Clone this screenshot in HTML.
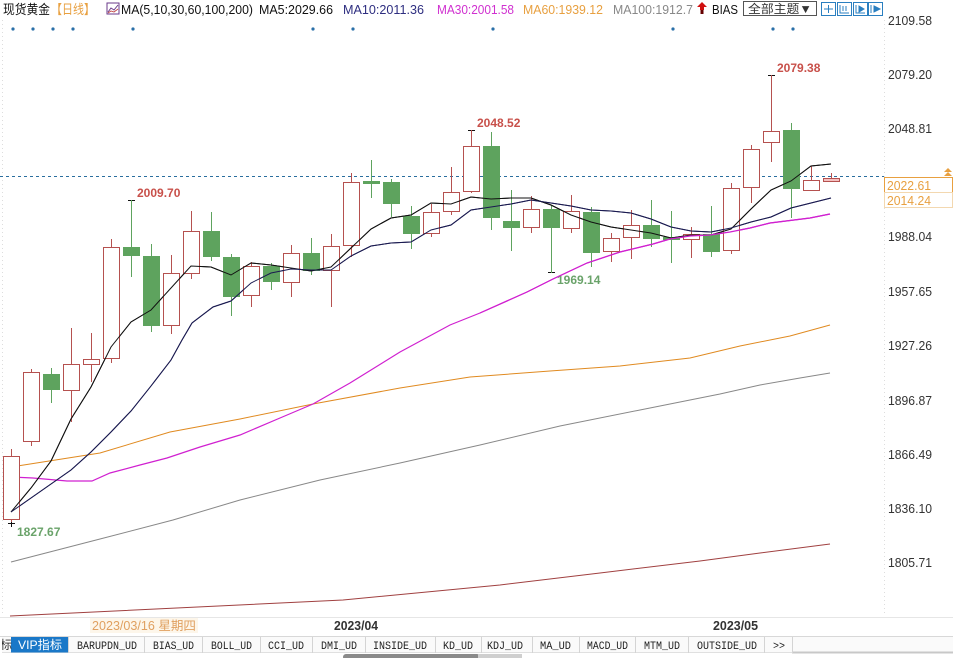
<!DOCTYPE html>
<html><head><meta charset="utf-8">
<style>
html,body{margin:0;padding:0;background:#fff;}
svg{display:block;}
text{font-family:"Liberation Sans","Noto Sans CJK SC",sans-serif;}
.mono{font-family:"Liberation Mono","Noto Sans CJK SC",monospace;}
</style></head>
<body>
<svg width="953" height="658" viewBox="0 0 953 658" xmlns="http://www.w3.org/2000/svg">
<rect width="953" height="658" fill="#fff"/>

<!-- header -->
<text x="3" y="14" font-size="13" fill="#111" textLength="47" lengthAdjust="spacingAndGlyphs">现货黄金</text>
<text x="51" y="14" font-size="13" fill="#e8a040" textLength="44" lengthAdjust="spacingAndGlyphs">【日线】</text>
<rect x="107" y="3" width="12" height="11" fill="#fff" stroke="#6a3a8a" stroke-width="1"/>
<polyline points="108,12 111,8 114,10 118,5" fill="none" stroke="#6a3a8a" stroke-width="1"/>
<polyline points="108,13 111,11 114,12 118,9" fill="none" stroke="#c04040" stroke-width="0.8"/>
<text x="121" y="14" font-size="13" fill="#111" textLength="132" lengthAdjust="spacingAndGlyphs">MA(5,10,30,60,100,200)</text>
<text x="259" y="14" font-size="13" fill="#111" textLength="74" lengthAdjust="spacingAndGlyphs">MA5:2029.66</text>
<text x="343" y="14" font-size="13" fill="#2e2e80" textLength="81" lengthAdjust="spacingAndGlyphs">MA10:2011.36</text>
<text x="437" y="14" font-size="13" fill="#d030d0" textLength="77" lengthAdjust="spacingAndGlyphs">MA30:2001.58</text>
<text x="523" y="14" font-size="13" fill="#e8a040" textLength="80" lengthAdjust="spacingAndGlyphs">MA60:1939.12</text>
<text x="613" y="14" font-size="13" fill="#888" textLength="80" lengthAdjust="spacingAndGlyphs">MA100:1912.7</text>
<polygon points="702,2 707,7 704,7 704,10 700,10 700,7 697,7" fill="#d01010"/>
<rect x="700.5" y="10" width="3" height="4" fill="#600"/>
<text x="712" y="14" font-size="13" fill="#111" textLength="26" lengthAdjust="spacingAndGlyphs">BIAS</text>
<rect x="743.5" y="1.5" width="73" height="14" fill="#fff" stroke="#555" stroke-width="1"/>
<text x="748" y="13" font-size="12" fill="#333" textLength="64" lengthAdjust="spacingAndGlyphs">全部主题▼</text>
<g fill="#fff" stroke="#2a7fc0" stroke-width="1">
<rect x="821.5" y="2.5" width="14" height="13"/>
<rect x="837.5" y="2.5" width="14" height="13"/>
<rect x="853.5" y="2.5" width="14" height="13"/>
<rect x="868.5" y="2.5" width="14" height="13"/>
</g>
<g stroke="#2a7fc0" stroke-width="1" fill="none">
<line x1="828.5" y1="5" x2="828.5" y2="13"/><line x1="824" y1="9" x2="833" y2="9"/>
<polyline points="840,5 840,13 849,13"/><line x1="843" y1="6" x2="843" y2="11"/><line x1="846" y1="6" x2="846" y2="11"/>
<polyline points="856,5 856,13 865,13"/><polygon points="859,6 864,9 859,12" fill="#2a7fc0"/>
<polyline points="871,5 871,13"/><polygon points="874,6 880,9 874,12" fill="#2a7fc0"/>
</g>

<!-- event dots -->
<g fill="#2a6fa8">
<circle cx="13" cy="29" r="1.6"/><circle cx="33" cy="29" r="1.6"/><circle cx="53" cy="29" r="1.6"/><circle cx="73" cy="29" r="1.6"/>
<circle cx="133" cy="29" r="1.6"/><circle cx="313" cy="29" r="1.6"/><circle cx="353" cy="29" r="1.6"/><circle cx="493" cy="29" r="1.6"/>
<circle cx="673" cy="29" r="1.6"/><circle cx="773" cy="29" r="1.6"/><circle cx="793" cy="29" r="1.6"/>
</g>

<!-- axis lines -->
<line x1="2.5" y1="20" x2="2.5" y2="616" stroke="#ddd" stroke-dasharray="1,3"/>
<line x1="884.5" y1="20" x2="884.5" y2="616" stroke="#ddd" stroke-dasharray="1,3"/>

<!-- right axis labels -->
<g font-size="12.5" fill="#333">
<text x="888" y="25" textLength="44" lengthAdjust="spacingAndGlyphs">2109.58</text>
<text x="888" y="79" textLength="44" lengthAdjust="spacingAndGlyphs">2079.20</text>
<text x="888" y="133" textLength="44" lengthAdjust="spacingAndGlyphs">2048.81</text>
<text x="888" y="241" textLength="44" lengthAdjust="spacingAndGlyphs">1988.04</text>
<text x="888" y="296" textLength="44" lengthAdjust="spacingAndGlyphs">1957.65</text>
<text x="888" y="350" textLength="44" lengthAdjust="spacingAndGlyphs">1927.26</text>
<text x="888" y="405" textLength="44" lengthAdjust="spacingAndGlyphs">1896.87</text>
<text x="888" y="459" textLength="44" lengthAdjust="spacingAndGlyphs">1866.49</text>
<text x="888" y="513" textLength="44" lengthAdjust="spacingAndGlyphs">1836.10</text>
<text x="888" y="567" textLength="44" lengthAdjust="spacingAndGlyphs">1805.71</text>
</g>

<!-- current price line -->
<line x1="0" y1="176.5" x2="884" y2="176.5" stroke="#2a6e9e" stroke-dasharray="3,3" stroke-width="1"/>
<rect x="884.5" y="177.5" width="68" height="15" fill="#fff" stroke="#e8a040"/>
<rect x="884.5" y="192.5" width="68" height="15" fill="#fff" stroke="#f3d8b0"/>
<text x="887" y="190" font-size="12.5" fill="#e8a040" textLength="44" lengthAdjust="spacingAndGlyphs">2022.61</text>
<text x="887" y="205" font-size="12.5" fill="#e8a040" textLength="44" lengthAdjust="spacingAndGlyphs">2014.24</text>
<polygon points="948,168 952,172 944,172" fill="#e8a040"/>
<polygon points="948,172 952,176 944,176" fill="#e8a040"/>

<!-- moving averages -->
<g fill="none" stroke-width="1">
<polyline stroke="#a04040" points="10,616 343,600 500,585 600,573 700,561 760,553 830,544"/>
<polyline stroke="#888" points="11,562 100,539 173,520 240,500 320,480 400,463 480,445 560,426 640,410 720,394 760,385 800,378 830,373"/>
<polyline stroke="#e08a20" points="11,467 100,453 170,432 240,419 313,404 400,388 470,377 550,371 620,366 690,358 740,346 790,336 830,325"/>
<polyline stroke="#d020d0" stroke-width="1.2" points="11,477 33,478 67,481 92,481 110,473 140,465 167,458 200,447 240,435 280,418 313,404 350,383 400,352 450,325 480,313 527,292 553,279 587,263 620,252 653,244 670,239 690,236 710,235 730,232 750,228 770,223 810,218 830,214"/>
</g>

<!-- candles -->
<g id="candles" stroke-width="1"></g>

<g fill="none" stroke-width="1">
<polyline stroke="#111" points="11,512 31,488 51,461 71,419 91,387 111,347 131,322 151,310 171,288 191,266 211,267 231,275 251,263 271,265 291,268 311,271 331,267 351,248 371,229 391,218 411,215 431,203 451,204 471,197 491,199 511,198 531,198 551,205 571,215 591,222 611,227 631,230 651,233 671,238 691,235 711,235 731,229 751,209 771,190 791,181 811,166 831,164"/>
<polyline stroke="#1a1a50" points="11,512 31,498 51,484 71,470 91,452 111,432 131,411 151,386 171,360 182,340 192,323 213,307 231,301 251,283 271,273 291,269 311,270 331,270 351,256 371,246 391,243 411,242 431,230 451,225 471,210 491,207 511,204 531,200 551,203 571,206 591,210 611,211 631,213 651,219 671,227 691,231 711,232 731,228 751,222 771,217 791,208 811,203 831,198"/>
</g>

<!-- markers and labels -->
<g stroke="#111" stroke-width="1">
<line x1="128" y1="200.5" x2="135" y2="200.5"/>
<line x1="468" y1="130.5" x2="475" y2="130.5"/>
<line x1="768" y1="75.5" x2="775" y2="75.5"/>
<line x1="548" y1="272.5" x2="555" y2="272.5"/>
<line x1="8" y1="523.5" x2="15" y2="523.5"/>
<line x1="11.5" y1="520" x2="11.5" y2="527"/>
</g>
<g font-size="12" font-weight="bold">
<text x="137" y="197" fill="#c8504a">2009.70</text>
<text x="477" y="127" fill="#c8504a">2048.52</text>
<text x="777" y="72" fill="#c8504a">2079.38</text>
<text x="557" y="284" fill="#6aa36a">1969.14</text>
<text x="17" y="536" fill="#6aa36a">1827.67</text>
</g>

<!-- date row -->
<line x1="0" y1="617.5" x2="953" y2="617.5" stroke="#e6e6e6"/>
<rect x="90" y="618" width="108" height="15" fill="#fdf6ea"/>
<text x="92" y="630" font-size="12.5" fill="#e0a060" textLength="104" lengthAdjust="spacingAndGlyphs">2023/03/16 星期四</text>
<text x="334" y="630" font-size="12.5" font-weight="bold" fill="#333" textLength="44" lengthAdjust="spacingAndGlyphs">2023/04</text>
<text x="713" y="630" font-size="12.5" font-weight="bold" fill="#333" textLength="45" lengthAdjust="spacingAndGlyphs">2023/05</text>

<!-- tab bar -->
<rect x="0" y="636.5" width="953" height="16" fill="#fafafa"/>
<line x1="0" y1="636.5" x2="953" y2="636.5" stroke="#d8d8d8"/>
<line x1="0" y1="652.5" x2="792" y2="652.5" stroke="#e0e0e0"/>
<line x1="792" y1="652.5" x2="953" y2="652.5" stroke="#c8c8c8" stroke-width="2"/>
<rect x="11" y="637" width="57" height="15.5" fill="#1a78c8"/>
<text x="0" y="649" font-size="12" fill="#333">标</text>
<rect x="0" y="637" width="2" height="16" fill="#fff"/>
<text x="40" y="649" font-size="12" fill="#fff" text-anchor="middle" textLength="44" lengthAdjust="spacingAndGlyphs">VIP指标</text>
<g stroke="#d4d4d4">
<line x1="68.5" y1="637" x2="68.5" y2="653"/><line x1="144.5" y1="637" x2="144.5" y2="653"/>
<line x1="202.5" y1="637" x2="202.5" y2="653"/><line x1="260.5" y1="637" x2="260.5" y2="653"/>
<line x1="312.5" y1="637" x2="312.5" y2="653"/><line x1="365.5" y1="637" x2="365.5" y2="653"/>
<line x1="435.5" y1="637" x2="435.5" y2="653"/><line x1="481.5" y1="637" x2="481.5" y2="653"/>
<line x1="532.5" y1="637" x2="532.5" y2="653"/><line x1="579.5" y1="637" x2="579.5" y2="653"/>
<line x1="635.5" y1="637" x2="635.5" y2="653"/><line x1="688.5" y1="637" x2="688.5" y2="653"/>
<line x1="764.5" y1="637" x2="764.5" y2="653"/><line x1="792.5" y1="637" x2="792.5" y2="653"/>
</g>
<g class="mono" font-size="11" fill="#222">
<text class="mono" x="77" y="649" textLength="60" lengthAdjust="spacingAndGlyphs">BARUPDN_UD</text>
<text class="mono" x="153" y="649" textLength="41" lengthAdjust="spacingAndGlyphs">BIAS_UD</text>
<text class="mono" x="211" y="649" textLength="41" lengthAdjust="spacingAndGlyphs">BOLL_UD</text>
<text class="mono" x="268" y="649" textLength="36" lengthAdjust="spacingAndGlyphs">CCI_UD</text>
<text class="mono" x="321" y="649" textLength="36" lengthAdjust="spacingAndGlyphs">DMI_UD</text>
<text class="mono" x="373" y="649" textLength="54" lengthAdjust="spacingAndGlyphs">INSIDE_UD</text>
<text class="mono" x="443" y="649" textLength="30" lengthAdjust="spacingAndGlyphs">KD_UD</text>
<text class="mono" x="487" y="649" textLength="36" lengthAdjust="spacingAndGlyphs">KDJ_UD</text>
<text class="mono" x="540" y="649" textLength="31" lengthAdjust="spacingAndGlyphs">MA_UD</text>
<text class="mono" x="587" y="649" textLength="41" lengthAdjust="spacingAndGlyphs">MACD_UD</text>
<text class="mono" x="644" y="649" textLength="36" lengthAdjust="spacingAndGlyphs">MTM_UD</text>
<text class="mono" x="697" y="649" textLength="60" lengthAdjust="spacingAndGlyphs">OUTSIDE_UD</text>
<text class="mono" x="773" y="649" textLength="12" lengthAdjust="spacingAndGlyphs">&gt;&gt;</text>
</g>
<rect x="343" y="654" width="137" height="6" rx="3" fill="#8a8a8a"/>
<rect x="478" y="654" width="44" height="6" fill="#cfcfcf"/>

<!-- candle drawing (static) -->
<g stroke-width="1">
<!-- format: wick line then body rect -->
<g stroke="#b5514f" fill="#fff">
<line x1="11.5" y1="449" x2="11.5" y2="522"/><rect x="3.5" y="456.5" width="16" height="63"/>
<line x1="31.5" y1="369" x2="31.5" y2="446"/><rect x="23.5" y="372.5" width="16" height="69"/>
<line x1="71.5" y1="328" x2="71.5" y2="422"/><rect x="63.5" y="364.5" width="16" height="26"/>
<line x1="91.5" y1="333" x2="91.5" y2="382"/><rect x="83.5" y="359.5" width="16" height="5"/>
<line x1="111.5" y1="239" x2="111.5" y2="363"/><rect x="103.5" y="247.5" width="16" height="111"/>
<line x1="171.5" y1="255" x2="171.5" y2="334"/><rect x="163.5" y="273.5" width="16" height="52"/>
<line x1="191.5" y1="211" x2="191.5" y2="279"/><rect x="183.5" y="231.5" width="16" height="42"/>
<line x1="251.5" y1="262" x2="251.5" y2="307"/><rect x="243.5" y="266.5" width="16" height="29"/>
<line x1="291.5" y1="245" x2="291.5" y2="297"/><rect x="283.5" y="253.5" width="16" height="29"/>
<line x1="331.5" y1="234" x2="331.5" y2="307"/><rect x="323.5" y="246.5" width="16" height="24"/>
<line x1="351.5" y1="173" x2="351.5" y2="257"/><rect x="343.5" y="182.5" width="16" height="63"/>
<line x1="431.5" y1="204" x2="431.5" y2="237"/><rect x="423.5" y="212.5" width="16" height="21"/>
<line x1="451.5" y1="167" x2="451.5" y2="215"/><rect x="443.5" y="192.5" width="16" height="19"/>
<line x1="471.5" y1="130" x2="471.5" y2="193"/><rect x="463.5" y="146.5" width="16" height="45"/>
<line x1="531.5" y1="196" x2="531.5" y2="233"/><rect x="523.5" y="209.5" width="16" height="18"/>
<line x1="571.5" y1="195" x2="571.5" y2="233"/><rect x="563.5" y="211.5" width="16" height="17"/>
<line x1="611.5" y1="233" x2="611.5" y2="262"/><rect x="603.5" y="238.5" width="16" height="13"/>
<line x1="631.5" y1="210" x2="631.5" y2="259"/><rect x="623.5" y="225.5" width="16" height="12"/>
<line x1="691.5" y1="227" x2="691.5" y2="258"/><rect x="683.5" y="234.5" width="16" height="5"/>
<line x1="731.5" y1="183" x2="731.5" y2="254"/><rect x="723.5" y="188.5" width="16" height="62"/>
<line x1="751.5" y1="145" x2="751.5" y2="203"/><rect x="743.5" y="149.5" width="16" height="38"/>
<line x1="771.5" y1="75" x2="771.5" y2="162"/><rect x="763.5" y="131.5" width="16" height="11"/>
<line x1="811.5" y1="166" x2="811.5" y2="190"/><rect x="803.5" y="180.5" width="16" height="10"/>
<line x1="831.5" y1="173" x2="831.5" y2="181"/><rect x="823.5" y="178.5" width="16" height="3" fill="#f4c0c0"/>
</g>
<g stroke="#5ea35e" fill="#5ea35e">
<line x1="51.5" y1="368" x2="51.5" y2="403"/><rect x="43.5" y="374.5" width="16" height="15"/>
<line x1="131.5" y1="200" x2="131.5" y2="277"/><rect x="123.5" y="247.5" width="16" height="8"/>
<line x1="151.5" y1="244" x2="151.5" y2="332"/><rect x="143.5" y="256.5" width="16" height="69"/>
<line x1="211.5" y1="212" x2="211.5" y2="261"/><rect x="203.5" y="231.5" width="16" height="25"/>
<line x1="231.5" y1="254" x2="231.5" y2="316"/><rect x="223.5" y="257.5" width="16" height="39"/>
<line x1="271.5" y1="263" x2="271.5" y2="290"/><rect x="263.5" y="266.5" width="16" height="15"/>
<line x1="311.5" y1="238" x2="311.5" y2="275"/><rect x="303.5" y="253.5" width="16" height="17"/>
<line x1="371.5" y1="160" x2="371.5" y2="198"/><rect x="363.5" y="181.5" width="16" height="2"/>
<line x1="391.5" y1="179" x2="391.5" y2="217"/><rect x="383.5" y="182.5" width="16" height="21"/>
<line x1="411.5" y1="206" x2="411.5" y2="249"/><rect x="403.5" y="216.5" width="16" height="17"/>
<line x1="491.5" y1="132" x2="491.5" y2="230"/><rect x="483.5" y="146.5" width="16" height="71"/>
<line x1="511.5" y1="190" x2="511.5" y2="251"/><rect x="503.5" y="221.5" width="16" height="6"/>
<line x1="551.5" y1="205" x2="551.5" y2="273"/><rect x="543.5" y="209.5" width="16" height="18"/>
<line x1="591.5" y1="207" x2="591.5" y2="267"/><rect x="583.5" y="212.5" width="16" height="40"/>
<line x1="651.5" y1="200" x2="651.5" y2="247"/><rect x="643.5" y="225.5" width="16" height="13"/>
<line x1="671.5" y1="211" x2="671.5" y2="263"/><rect x="663.5" y="237.5" width="16" height="2"/>
<line x1="711.5" y1="206" x2="711.5" y2="257"/><rect x="703.5" y="234.5" width="16" height="17"/>
<line x1="791.5" y1="123" x2="791.5" y2="218"/><rect x="783.5" y="130.5" width="16" height="58"/>
</g>
</g>
<!-- redraw MA5/MA10 on top of candles -->
<g fill="none" stroke-width="1">
<polyline stroke="#111" points="11,512 31,488 51,461 71,419 91,387 111,347 131,322 151,310 171,288 191,266 211,267 231,275 251,263 271,265 291,268 311,271 331,267 351,248 371,229 391,218 411,215 431,203 451,204 471,197 491,199 511,198 531,198 551,205 571,215 591,222 611,227 631,230 651,233 671,238 691,235 711,235 731,229 751,209 771,190 791,181 811,166 831,164"/>
<polyline stroke="#1a1a50" points="11,512 31,498 51,484 71,470 91,452 111,432 131,411 151,386 171,360 182,340 192,323 213,307 231,301 251,283 271,273 291,269 311,270 331,270 351,256 371,246 391,243 411,242 431,230 451,225 471,210 491,207 511,204 531,200 551,203 571,206 591,210 611,211 631,213 651,219 671,227 691,231 711,232 731,228 751,222 771,217 791,208 811,203 831,198"/>
<polyline stroke="#d020d0" stroke-width="1.2" points="480,313 527,292 553,279 587,263 620,252 653,244 670,239 690,236 710,235 730,232 750,228 770,223 810,218 830,214"/>
</g>
</svg>
</body></html>
